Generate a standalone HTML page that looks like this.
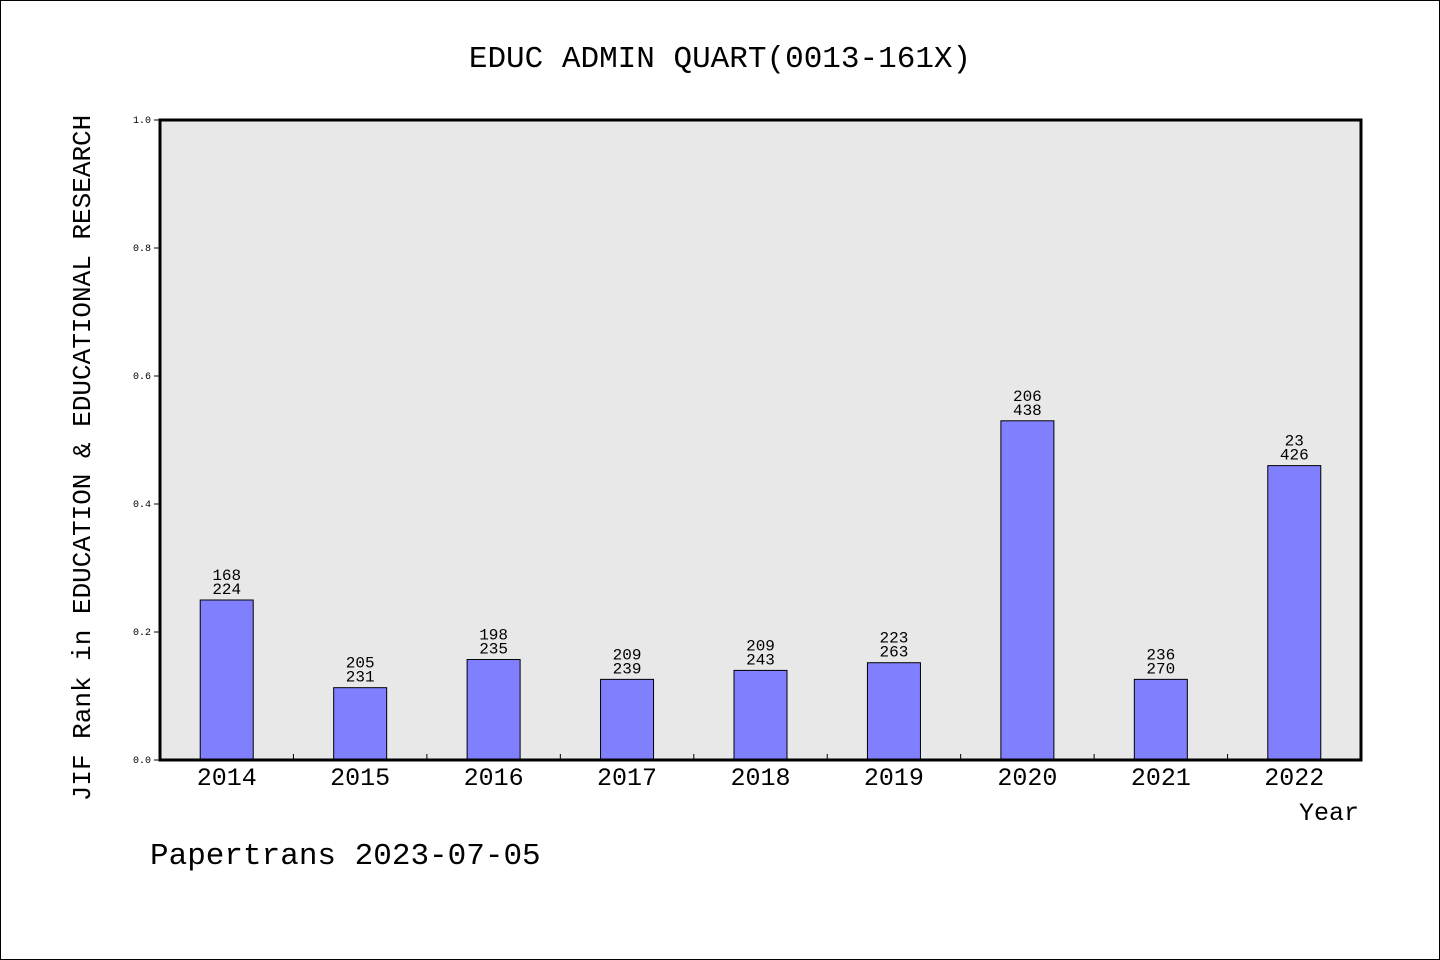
<!DOCTYPE html>
<html><head><meta charset="utf-8"><style>
body{margin:0;background:#fff}
svg{display:block}
text{font-family:"WenQuanYi Zen Hei","Liberation Mono",monospace;fill:#000}
</style></head><body>
<svg id="c" width="1440" height="960">
<rect x="0.5" y="0.5" width="1439" height="959" fill="#fff" stroke="#000"/>
<text x="720" y="67" font-size="31" text-anchor="middle">EDUC ADMIN QUART(0013-161X)</text>
<rect x="160" y="120" width="1201" height="640" fill="#e8e8e8"/>
<g id="g"></g>
<rect x="160" y="120" width="1201" height="640" fill="none" stroke="#000" stroke-width="3"/>
<text x="90" y="458" font-size="26" text-anchor="middle" transform="rotate(-90 90 458)">JIF Rank in EDUCATION &amp; EDUCATIONAL RESEARCH</text>
<text x="1359" y="820" font-size="25" text-anchor="end">Year</text>
<text x="150" y="864" font-size="31">Papertrans 2023-07-05</text>
</svg>
<script>
const years=["2014","2015","2016","2017","2018","2019","2020","2021","2022"];
const values=[0.25,0.113,0.157,0.126,0.14,0.152,0.53,0.126,0.46];
const ranks=["168","205","198","209","209","223","206","236","23"];
const totals=["224","231","235","239","243","263","438","270","426"];
const yTicks=[0,0.2,0.4,0.6,0.8,1.0];
const X0=160,X1=1361,Y0=760,Y1=120;
const band=(X1-X0)/years.length;
const xc=i=>X0+band*(i+0.5);
const y=v=>Y0-(Y0-Y1)*v;
const g=document.getElementById('g');
const NS="http://www.w3.org/2000/svg";
function mk(t,a){const e=document.createElementNS(NS,t);for(const k in a)e.setAttribute(k,a[k]);g.appendChild(e);return e;}
yTicks.forEach(v=>{
 const l=mk('line',{x1:154,x2:160,y1:y(v),y2:y(v),stroke:'#000'});
 
 
 const t=mk('text',{x:151,y:y(v)+3,'font-size':10,'text-anchor':'end'});t.textContent=v.toFixed(1);
 
 
});
for(let i=1;i<years.length;i++){
 const l=mk('line',{x1:X0+band*i,x2:X0+band*i,y1:Y0,y2:Y0-6,stroke:'#000'});
 
 
}
const bw=53;
years.forEach((yr,i)=>{
 const r=mk('rect',{x:xc(i)-bw/2,y:y(values[i]),width:bw,height:Y0-y(values[i]),fill:'#8080ff',stroke:'#000','stroke-width':1});
 
 
 const a=mk('text',{x:xc(i),y:y(values[i])-20,'font-size':16,'text-anchor':'middle'});a.textContent=ranks[i];
 
 
 const b=mk('text',{x:xc(i),y:y(values[i])-6,'font-size':16,'text-anchor':'middle'});b.textContent=totals[i];
 
 
 const t=mk('text',{x:xc(i),y:785,'font-size':25,'text-anchor':'middle'});t.textContent=yr;
 
 
});
</script>
</body></html>
